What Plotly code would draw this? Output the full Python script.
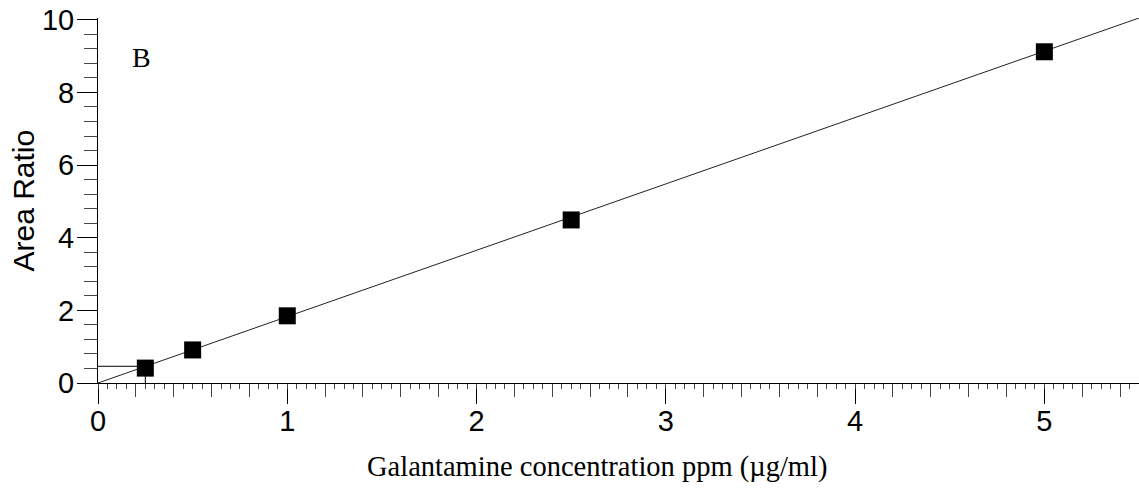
import plotly.graph_objects as go

# Calibration data (Galantamine concentration in ppm vs area ratio)
conc = [0.25, 0.5, 1.0, 2.5, 5.0]
area_ratio = [0.41, 0.91, 1.85, 4.49, 9.12]

# Regression line endpoints
fit_x = [0.0, 5.5]
fit_y = [0.0, 10.05]

# Interpolation guide (horizontal and drop line near the origin)
guide_x = [0.0, 0.25, 0.25]
guide_y = [0.46, 0.46, 0.0]

x_range = [0, 5.5]
y_range = [0, 10.05]

fig = go.Figure()

fig.add_trace(go.Scatter(x=fit_x, y=fit_y, mode="lines",
                         line=dict(color="#222222", width=1), hoverinfo="skip",
                         showlegend=False))
fig.add_trace(go.Scatter(x=guide_x, y=guide_y, mode="lines",
                         line=dict(color="black", width=1), hoverinfo="skip",
                         showlegend=False))
fig.add_trace(go.Scatter(x=conc, y=area_ratio, mode="markers",
                         marker=dict(symbol="square", size=17, color="black",
                                     line=dict(width=0)),
                         showlegend=False))
# invisible trace to host the fine-tick overlay axis
fig.add_trace(go.Scatter(x=[0], y=[0], xaxis="x2", mode="markers",
                         marker=dict(opacity=0), hoverinfo="skip",
                         showlegend=False))

tick_font = dict(family="Liberation Sans, Arial, sans-serif", size=29, color="black")

fig.update_layout(
    width=1139, height=491,
    margin=dict(l=98, r=0, t=18, b=108, autoexpand=False),
    paper_bgcolor="white", plot_bgcolor="white",
    xaxis=dict(range=x_range, dtick=1, tick0=0, ticks="outside", ticklen=20,
               tickwidth=1, tickcolor="black", showline=True, linecolor="black",
               linewidth=1, showgrid=False, zeroline=False, tickfont=tick_font,
               automargin=False, ticklabeloverflow="allow", ticklabelstandoff=-8,
               minor=dict(dtick=0.2, tick0=0, ticks="outside", ticklen=13,
                          tickwidth=1, tickcolor="#444444", showgrid=False)),
    xaxis2=dict(range=x_range, overlaying="x", anchor="y", side="bottom",
                dtick=0.05, tick0=0, ticks="outside", ticklen=5, tickwidth=1,
                tickcolor="#444444", showticklabels=False, showline=False,
                showgrid=False, zeroline=False, automargin=False),
    yaxis=dict(range=y_range, dtick=2, tick0=0, ticks="outside", ticklen=20,
               tickwidth=1, tickcolor="black", showline=True, linecolor="black",
               linewidth=1, showgrid=False, zeroline=False, tickfont=tick_font,
               automargin=False, ticklabeloverflow="allow", ticklabelstandoff=-3,
               minor=dict(dtick=0.4, tick0=0, ticks="outside", ticklen=13,
                          tickwidth=1, tickcolor="#444444", showgrid=False)),
    annotations=[
        dict(text="Galantamine concentration ppm (µg/ml)", xref="paper", yref="paper",
             x=0.479, y=-0.23, xanchor="center", yanchor="middle", showarrow=False,
             font=dict(family="Liberation Serif, Times New Roman, serif", size=28.5,
                       color="black")),
        dict(text="Area Ratio", xref="paper", yref="paper", x=-0.072, y=0.5,
             xanchor="center", yanchor="middle", textangle=-90, showarrow=False,
             font=dict(family="Liberation Sans, Arial, sans-serif", size=30,
                       color="black")),
        dict(text="B", xref="x", yref="y", x=0.232, y=8.95, xanchor="center",
             yanchor="middle", showarrow=False,
             font=dict(family="Liberation Serif, Times New Roman, serif", size=28,
                       color="black")),
    ],
)

fig.write_html("out.html", config={"displayModeBar": False},
               post_script="document.body.style.margin='0';")
